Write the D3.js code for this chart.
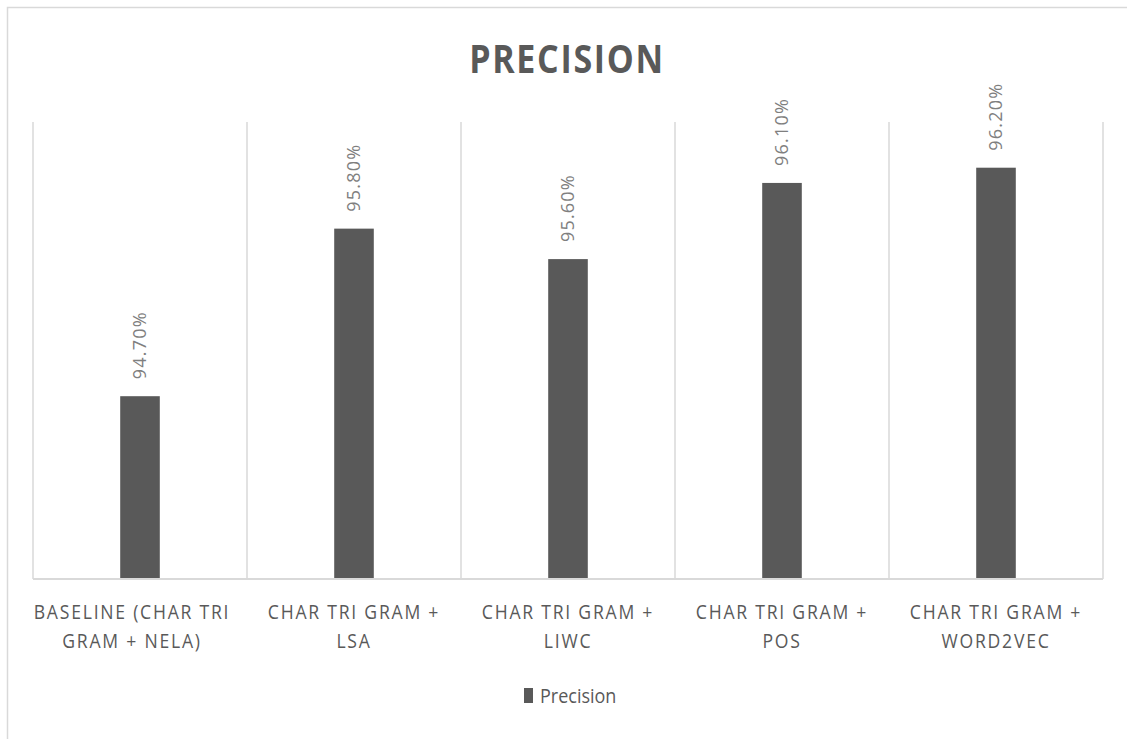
<!DOCTYPE html>
<html>
<head>
<meta charset="utf-8">
<script src="https://cdn.jsdelivr.net/npm/d3@7"></script>
<style>
  html, body { margin: 0; padding: 0; background: #fff; }
  svg { display: block; }
  text { font-family: "Open Sans", "Liberation Sans", sans-serif; }
</style>
</head>
<body>
<svg id="chart" width="1127" height="739"></svg>
<script>
// Precision per feature combination
const categories = [
  ["BASELINE (CHAR TRI", "GRAM + NELA)"],
  ["CHAR TRI GRAM +", "LSA"],
  ["CHAR TRI GRAM +", "LIWC"],
  ["CHAR TRI GRAM +", "POS"],
  ["CHAR TRI GRAM +", "WORD2VEC"]
];
const precision = [94.7, 95.8, 95.6, 96.1, 96.2];
const valueLabels = ["94.70%", "95.80%", "95.60%", "96.10%", "96.20%"];
const yDomain = [93.5, 96.5];
const seriesName = "Precision";

const svg = d3.select("#chart");
const W = 1127, H = 739;
const margin = { left: 33, right: 24, top: 122, bottom: 160 };
const plotW = W - margin.left - margin.right;
const plotH = H - margin.top - margin.bottom;

// chart area frame
svg.append("rect")
  .attr("x", 7.5).attr("y", 7.5)
  .attr("width", W + 10).attr("height", H + 10)
  .attr("fill", "#fff")
  .attr("stroke", "#d9d9d9").attr("stroke-width", 1.5);

// title (narrowed to a condensed look)
svg.append("text")
  .attr("transform", "translate(567,73) scale(0.85,1)")
  .attr("text-anchor", "middle")
  .attr("font-size", 40).attr("font-weight", "bold")
  .attr("letter-spacing", 2)
  .attr("fill", "#595959")
  .text("PRECISION");

const g = svg.append("g").attr("transform", `translate(${margin.left},${margin.top})`);

const x = d3.scaleBand()
  .domain(d3.range(categories.length))
  .range([0, plotW])
  .paddingInner(0).paddingOuter(0);

const y = d3.scaleLinear().domain(yDomain).range([plotH, 0]);

// vertical category separators
const seps = d3.range(categories.length + 1).map(i => i === categories.length ? plotW : x(i));
g.selectAll("line.sep").data(seps).join("line")
  .attr("class", "sep")
  .attr("x1", d => d).attr("x2", d => d)
  .attr("y1", 0).attr("y2", plotH)
  .attr("stroke", "#d9d9d9").attr("stroke-width", 1.5);

// bars
const barW = x.bandwidth() * 0.185;
g.selectAll("rect.bar").data(precision).join("rect")
  .attr("class", "bar")
  .attr("x", (d, i) => x(i) + x.bandwidth() / 2 - barW / 2)
  .attr("y", d => y(d))
  .attr("width", barW)
  .attr("height", d => plotH - y(d))
  .attr("fill", "#595959");

// baseline
g.append("line")
  .attr("x1", 0).attr("x2", plotW)
  .attr("y1", plotH).attr("y2", plotH)
  .attr("stroke", "#d9d9d9").attr("stroke-width", 2);

// value labels, rotated
g.selectAll("text.val").data(precision).join("text")
  .attr("class", "val")
  .attr("transform", (d, i) => `translate(${x(i) + x.bandwidth() / 2 + 6},${y(d) - 17}) rotate(-90)`)
  .attr("font-size", 18)
  .attr("letter-spacing", 1.2)
  .attr("fill", "#7f7f7f")
  .text((d, i) => valueLabels[i]);

// category labels
const cat = g.selectAll("g.cat").data(categories).join("g")
  .attr("class", "cat")
  .attr("transform", (d, i) => `translate(${x(i) + x.bandwidth() / 2 - (i === 0 ? 8 : 0)},${plotH + 40}) scale(0.88,1)`);
cat.append("text")
  .attr("text-anchor", "middle")
  .attr("font-size", 20)
  .attr("letter-spacing", 2)
  .attr("fill", "#595959")
  .selectAll("tspan").data(d => d).join("tspan")
  .attr("x", 0)
  .attr("y", (d, j) => j * 29)
  .text(d => d);

// legend
const legend = svg.append("g").attr("transform", "translate(524,688)");
legend.append("rect").attr("x", 0).attr("y", 0).attr("width", 9).attr("height", 15).attr("fill", "#595959");
legend.append("text").attr("transform", "translate(16,15) scale(0.9,1)")
  .attr("font-size", 20).attr("fill", "#595959")
  .text(seriesName);
</script>
</body>
</html>
